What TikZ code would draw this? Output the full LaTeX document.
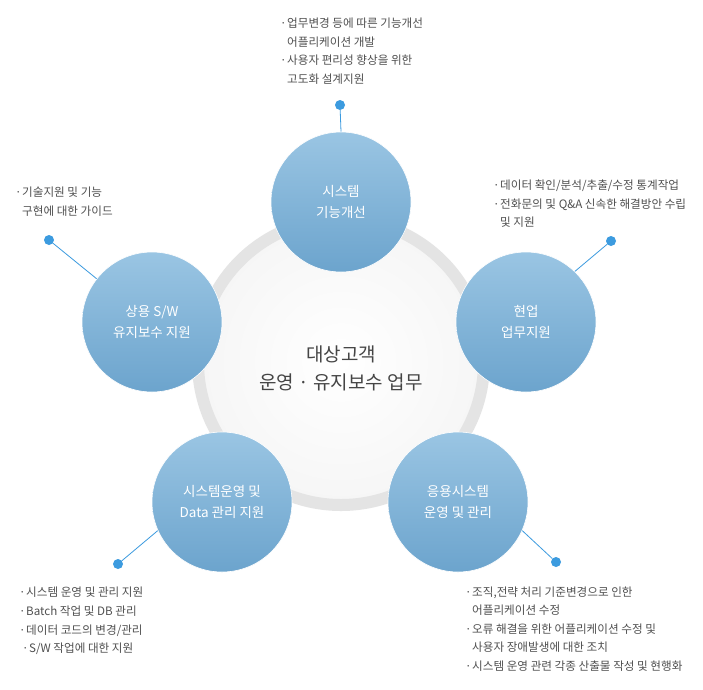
\documentclass[tikz,border=0pt]{standalone}
\usepackage{fontspec}
\setmainfont{Noto Sans CJK KR}
\definecolor{txtgray}{HTML}{505050}
\definecolor{ctrgray}{HTML}{454545}
\definecolor{ringgray}{HTML}{E4E4E4}
\definecolor{bluetop}{HTML}{9AC5E3}
\definecolor{bluebot}{HTML}{6CA4CD}
\definecolor{dotblue}{HTML}{3C9BDF}
\newcommand{\bul}{\makebox[7pt][l]{·}}
\newcommand{\ind}{\hspace*{7pt}}
\begin{document}
\begin{tikzpicture}[x=1pt,y=-1pt,
  topic/.style={circle,minimum size=140pt,inner sep=0pt,top color=bluetop,bottom color=bluebot,
    draw=white,line width=0.6pt,text=white,align=center,font=\fontsize{13.5}{21}\selectfont},
  dotnode/.style={circle,fill=dotblue,minimum size=10pt,inner sep=0pt},
  conn/.style={draw=dotblue,line width=0.8pt},
  desc/.style={anchor=west,align=left,inner sep=0pt,text=txtgray,font=\fontsize{11.6}{18.6}\selectfont}]
\useasboundingbox (0,0) rectangle (703,689);
\fill[white] (0,0) rectangle (703,689);
% central circle
\shade[inner color=white,outer color=gray!7] (341,362) circle[radius=140pt];
\draw[ringgray,line width=12pt] (341,362) circle[radius=143pt];
\node[text=ctrgray,align=center,font=\fontsize{19}{28}\selectfont] (center) at (341,368) {대상고객\\운영 · 유지보수 업무};
% topic circles
\node[topic] (ctop) at (341,202) {시스템\\기능개선};
\node[topic] (cright) at (526,322) {현업\\업무지원};
\node[topic] (cleft) at (152,322) {상용 S/W\\유지보수 지원};
\node[topic] (cbl) at (222,502) {시스템운영 및\\Data 관리 지원};
\node[topic] (cbr) at (458,502) {응용시스템\\운영 및 관리};
% dots
\node[dotnode] (dtop) at (340,105) {};
\node[dotnode] (dright) at (611,241) {};
\node[dotnode] (dleft) at (49,240) {};
\node[dotnode] (dbl) at (118,564) {};
\node[dotnode] (dbr) at (556,562) {};
% connectors
\draw[conn] (dtop) -- (ctop.90);
\draw[conn] (dright) -- (cright.46);
\draw[conn] (dleft) -- (cleft.142);
\draw[conn] (dbl) -- (cbl.204);
\draw[conn] (dbr) -- (cbr.336);
% descriptions
\node[desc] (ttop) at (280,51) {\bul 업무변경 등에 따른 기능개선\\\ind 어플리케이션 개발\\\bul 사용자 편리성 향상을 위한\\\ind 고도화 설계지원};
\node[desc] (tright) at (493,204) {\bul 데이터 확인/분석/추출/수정 통계작업\\\bul 전화문의 및 Q\&A 신속한 해결방안 수립\\\ind 및 지원};
\node[desc] (tleft) at (15,201.5) {\bul 기술지원 및 기능\\\ind 구현에 대한 가이드};
\node[desc] (tbl) at (19,621) {\bul 시스템 운영 및 관리 지원\\\bul Batch 작업 및 DB 관리\\\bul 데이터 코드의 변경/관리\\\hspace*{3pt}\bul S/W 작업에 대한 지원};
\node[desc] (tbr) at (465,629) {\bul 조직,전략 처리 기준변경으로 인한\\\ind 어플리케이션 수정\\\bul 오류 해결을 위한 어플리케이션 수정 및\\\ind 사용자 장애발생에 대한 조치\\\bul 시스템 운영 관련 각종 산출물 작성 및 현행화};
\end{tikzpicture}
\end{document}
